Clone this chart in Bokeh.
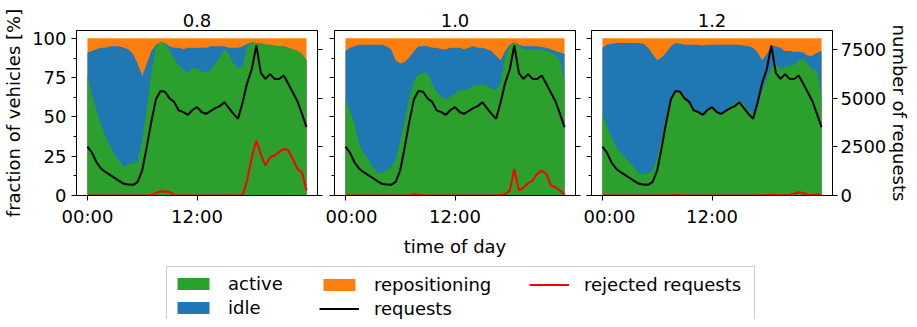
import numpy as np
from bokeh.plotting import figure
from bokeh.models import Range1d, LinearAxis, FixedTicker, Legend, LegendItem
from bokeh.layouts import row, column
from bokeh.embed import file_html
from bokeh.resources import INLINE

# ---------------- data ----------------
hours = [0, 0.5, 1, 1.5, 2, 2.5, 3, 3.5, 4, 4.5, 5, 5.5, 6, 6.5, 7, 7.5, 8, 8.5,
         9, 9.5, 10, 10.5, 11, 11.5, 12, 12.5, 13, 13.5, 14, 14.5, 15, 15.5, 16,
         16.5, 17, 17.5, 18, 18.5, 19, 19.5, 20, 20.5, 21, 21.5, 22, 22.5, 23,
         23.5, 24]

panel_titles = ["0.8", "1.0", "1.2"]

# fraction of vehicles [%]
active_08 = [77, 64, 54, 45, 37, 31, 26, 22, 18, 20, 20, 22, 35, 55, 78, 95, 97.5, 97,
             92, 87, 83, 80, 78, 81, 81, 79, 78, 80, 84, 88, 93, 90, 84, 81, 82, 95,
             97.5, 97, 97, 96, 96, 95.5, 95, 95, 94, 93, 92, 90, 86]
idle_08 = [14, 28, 39, 49, 57, 64, 69, 73, 76, 73, 70, 62, 41, 29, 14, 1, 0, 0,
           3, 7, 11, 13, 16, 13, 13, 15, 16, 15, 11, 7, 2, 4, 10, 13, 13, 1.5,
           0, 0, 0, 0, 0, 0, 0, 0, 0, 0, 0, 0, 0]

active_10 = [62, 54, 45, 33, 27, 23, 18, 15, 14, 16, 18, 23, 35, 48, 62, 73, 77, 78,
             78, 71, 66, 63, 61, 63, 65, 67, 67, 68, 70, 70, 71, 70, 68, 67, 72, 88,
             95, 97.5, 95, 93, 93, 93, 93, 92.5, 92, 91, 89, 86, 73]
idle_10 = [30, 40, 50, 63, 69, 73, 78, 81, 82, 79, 75, 63, 49, 37, 26, 19, 18, 17,
           17, 23, 28, 30, 32, 31, 29, 27, 26, 26, 25, 24, 23, 23, 24, 22, 14, 4,
           1, 0, 1, 2, 2, 2, 2, 2, 2, 2, 3, 5, 17]

active_12 = [52, 44, 37, 31, 27, 24, 21, 18, 14, 13.5, 14, 16, 24, 37, 50, 62, 67, 66.5,
             64, 60, 55, 54, 51, 55, 55, 54, 52, 54, 56, 59, 60.5, 58, 54, 52, 55, 67,
             74, 81, 84, 80, 82, 82.5, 83, 86, 87, 84, 80, 80, 63]
idle_12 = [42, 52, 59.5, 66, 70, 73, 76, 79, 83, 83, 80, 74, 62, 51, 41, 33, 30, 30,
           32, 36, 41, 42, 44.5, 41, 41, 42, 44, 42, 40, 37, 35.5, 37.5, 41, 42, 36, 19,
           16, 14, 11, 14, 10, 9.5, 8.5, 5.5, 4, 5, 9, 11, 29]

# number of requests (same demand in all panels)
requests = [2520, 2200, 1700, 1380, 1200, 1050, 900, 740, 600, 560, 550, 700, 1300,
            2500, 3800, 4950, 5380, 5340, 5000, 4820, 4380, 4290, 4150, 4400, 4550,
            4300, 4200, 4350, 4500, 4600, 4800, 4500, 4200, 3950, 4800, 5800, 6500,
            7720, 6300, 6000, 6250, 6000, 6000, 6180, 5750, 5300, 4850, 4200, 3520]

rejected_08 = [0, 0, 0, 0, 0, 0, 0, 0, 0, 0, 0, 0, 5, 5, 20, 120, 220, 200,
               180, 30, 5, 5, 5, 0, 0, 0, 5, 5, 5, 5, 5, 5, 5, 5, 30, 800,
               1970, 2830, 2100, 1540, 1970, 2060, 2230, 2400, 2320, 1890, 1370, 1200, 260]
rejected_10 = [0, 0, 0, 0, 0, 0, 0, 0, 0, 0, 0, 0, 0, 5, 10, 60, 40, 10,
               5, 5, 5, 5, 0, 0, 5, 5, 5, 5, 5, 5, 5, 5, 5, 10, 20, 80,
               250, 1350, 260, 400, 630, 770, 1115, 1290, 1115, 515, 430, 260, 30]
rejected_12 = [0, 0, 0, 0, 0, 0, 0, 0, 0, 0, 0, 0, 0, 0, 5, 10, 30, 10,
               5, 0, 0, 0, 0, 0, 0, 0, 0, 0, 0, 5, 5, 5, 5, 5, 5, 10,
               20, 40, 20, 10, 10, 30, 100, 170, 130, 40, 20, 60, 20]

pct_ticks = [0, 25, 50, 75, 100]
pct_minor = [12.5, 37.5, 62.5, 87.5]
req_ticks = [0, 2500, 5000, 7500]
time_ticks = [0, 12]
time_labels = {0: "00:00", 12: "12:00"}

GREEN = "#2ca02c"
BLUE = "#1f77b4"
ORANGE = "#ff7f0e"
FONT = "DejaVu Sans"
FS = "18px"


def style_axis(ax, show_labels):
    ax.axis_line_color = "black"
    ax.major_tick_line_color = "black"
    ax.minor_tick_line_color = "black"
    ax.major_tick_out = 5
    ax.major_tick_in = 0
    ax.minor_tick_out = 3
    ax.minor_tick_in = 0
    ax.major_label_text_font = FONT
    ax.axis_label_text_font = FONT
    ax.axis_label_text_font_size = FS
    ax.axis_label_text_font_style = "normal"
    ax.axis_label_text_color = "black"
    ax.major_label_text_color = "black"
    if show_labels:
        ax.major_label_text_font_size = FS
        ax.major_label_standoff = 5
    else:
        ax.major_label_text_font_size = "0px"
        ax.major_label_standoff = 0


def make_panel(title, active, idle, rejected, idx, borders):
    bl, br = borders
    p = figure(frame_width=241, frame_height=165,
               x_range=Range1d(-1.2, 25.2), y_range=Range1d(0, 105),
               output_backend="svg", toolbar_location=None,
               min_border_left=bl, min_border_right=br,
               min_border_top=30, min_border_bottom=60)
    p.extra_y_ranges = {"req": Range1d(0, 8493)}
    p.xgrid.visible = False
    p.ygrid.visible = False
    p.outline_line_color = "black"
    p.outline_line_width = 1
    p.background_fill_color = "white"
    p.border_fill_color = "white"

    p.title.text = title
    p.title.align = "center"
    p.title.text_font = FONT
    p.title.text_font_size = FS
    p.title.text_font_style = "normal"
    p.title.text_color = "black"
    p.title.standoff = 7

    a = np.array(active, dtype=float)
    i = np.array(idle, dtype=float)
    r = 100 - a - i            # repositioning share
    # stacked bands, painted back to front to avoid seams
    p.varea(x=hours, y1=0, y2=a + i + r, fill_color=ORANGE, fill_alpha=1)
    p.varea(x=hours, y1=0, y2=a + i, fill_color=BLUE, fill_alpha=1)
    p.varea(x=hours, y1=0, y2=a, fill_color=GREEN, fill_alpha=1)

    p.line(hours, requests, color="black", line_width=2, y_range_name="req")
    p.line(hours, rejected, color="red", line_width=2, y_range_name="req")

    # x axis
    xa = p.xaxis[0]
    xa.ticker = FixedTicker(ticks=time_ticks)
    xa.major_label_overrides = time_labels
    style_axis(xa, True)
    xa.major_label_standoff = 5
    if idx == 1:
        xa.axis_label = "time of day"
        xa.axis_label_standoff = 6

    # left axis
    ya = p.yaxis[0]
    ya.ticker = FixedTicker(ticks=pct_ticks, minor_ticks=pct_minor)
    style_axis(ya, idx == 0)
    if idx == 0:
        ya.axis_label = "fraction of vehicles [%]"
        ya.axis_label_standoff = 5
        ya.major_label_standoff = 5

    # right axis
    ra = LinearAxis(y_range_name="req", ticker=FixedTicker(ticks=req_ticks))
    style_axis(ra, idx == 2)
    if idx == 2:
        ra.axis_label = "number of requests"
        ra.axis_label_standoff = 0
        ra.major_label_standoff = 3
    p.add_layout(ra, "right")
    return p


panels = [
    make_panel(panel_titles[0], active_08, idle_08, rejected_08, 0, (69, 8)),
    make_panel(panel_titles[1], active_10, idle_10, rejected_10, 1, (9, 8)),
    make_panel(panel_titles[2], active_12, idle_12, rejected_12, 2, (8, 76)),
]

# ---------------- legend strip ----------------
leg = figure(width=901, height=60, x_axis_type=None, y_axis_type=None,
             x_range=Range1d(-1.2, 25.2), y_range=Range1d(0, 105),
             output_backend="svg", toolbar_location=None,
             min_border=0, outline_line_color=None)
leg.xgrid.visible = False
leg.ygrid.visible = False
a08 = np.array(active_08, dtype=float)
r_act = leg.varea(x=hours, y1=0, y2=a08, fill_color=GREEN, visible=False)
r_idle = leg.varea(x=hours, y1=0, y2=a08 + np.array(idle_08), fill_color=BLUE, visible=False)
r_rep = leg.varea(x=hours, y1=0, y2=a08, fill_color=ORANGE, visible=False)
r_req = leg.line(x=hours, y=active_08, color="black", line_width=2, visible=False)
r_rej = leg.line(x=hours, y=active_08, color="red", line_width=2, visible=False)
r_blank = leg.line(x=hours, y=active_08, color="white", line_alpha=0, visible=False)

LEG_Y = -6
LABEL_W = 520


def make_legend(items, x, boxed):
    lg = Legend(items=items, location=(x, LEG_Y), orientation="vertical")
    lg.label_text_font = FONT
    lg.label_text_font_size = FS
    lg.label_text_color = "black"
    lg.glyph_width = 40
    lg.glyph_height = 15
    lg.label_standoff = 15
    lg.label_height = 21
    lg.label_width = LABEL_W
    lg.spacing = 3
    lg.padding = 6
    lg.margin = 0
    lg.border_line_color = "#cccccc"
    lg.border_line_width = 1
    lg.background_fill_color = "white"
    if boxed:
        lg.border_line_alpha = 1
        lg.background_fill_alpha = 1
    else:
        lg.border_line_alpha = 0
        lg.background_fill_alpha = 0
    leg.add_layout(lg, "center")


make_legend([LegendItem(label="active", renderers=[r_act]),
             LegendItem(label="idle", renderers=[r_idle])], 166, True)
make_legend([LegendItem(label="repositioning", renderers=[r_rep]),
             LegendItem(label="requests", renderers=[r_req])], 313, False)
make_legend([LegendItem(label="rejected requests", renderers=[r_rej]),
             LegendItem(label=" ", renderers=[r_blank])], 523, False)

layout = column(row(*panels), leg)

open("out.html", "w").write(file_html(layout, INLINE))
